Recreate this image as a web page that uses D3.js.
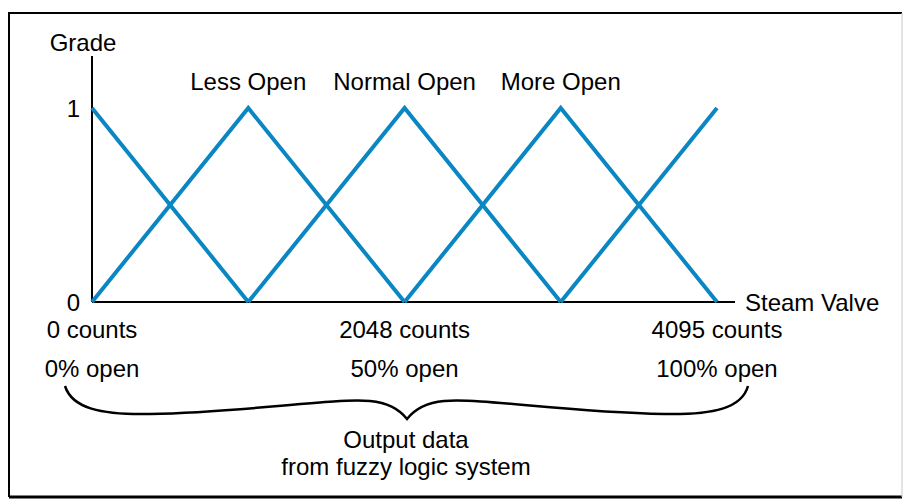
<!DOCTYPE html>
<html>
<head>
<meta charset="utf-8">
<script src="https://cdnjs.cloudflare.com/ajax/libs/d3/7.8.5/d3.min.js"></script>
<style>
  body { margin: 0; background: #fff; }
  text { font-family: "Liberation Sans", Arial, sans-serif; font-size: 24px; fill: #000; }
</style>
</head>
<body>
<script>
// membership sets: [start, peak, end] in counts, grade 0..1
var setNames = ["", "Less Open", "Normal Open", "More Open", ""];
var setPoints = [
	[[0, 1], [1024, 0]],
	[[0, 0], [1024, 1], [2048, 0]],
	[[1024, 0], [2048, 1], [3071, 0]],
	[[2048, 0], [3071, 1], [4095, 0]],
	[[3071, 0], [4095, 1]]
];
var peakCounts = [0, 1024, 2048, 3071, 4095];
var countTicks = [0, 2048, 4095];
var countLabels = ["0 counts", "2048 counts", "4095 counts"];
var openLabels = ["0% open", "50% open", "100% open"];
var gradeTicks = [0, 1];

var width = 903,
	height = 500;

var x = d3.scaleLinear().domain([0, 4095]).range([92, 717]);
var y = d3.scaleLinear().domain([0, 1]).range([302, 108]);

var svg = d3.select("body").append("svg")
	.attr("width", width)
	.attr("height", height);

// frame
svg.append("path")
	.attr("d", "M9,497 L9,13 L902,13")
	.attr("fill", "none").attr("stroke", "#000").attr("stroke-width", 2);
svg.append("line")
	.attr("x1", 9).attr("x2", 902).attr("y1", 497).attr("y2", 497)
	.attr("stroke", "#000").attr("stroke-width", 3);
svg.append("line")
	.attr("x1", 902).attr("x2", 902).attr("y1", 13).attr("y2", 497)
	.attr("stroke", "#c8c8c8").attr("stroke-width", 1);

// axes lines
svg.append("line")
	.attr("x1", x(0)).attr("x2", x(0)).attr("y1", y(0)).attr("y2", 56)
	.attr("stroke", "#000").attr("stroke-width", 2);
svg.append("line")
	.attr("x1", x(0)).attr("x2", 735).attr("y1", y(0)).attr("y2", y(0))
	.attr("stroke", "#000").attr("stroke-width", 2);

// grade ticks
var ya = svg.append("g")
	.attr("transform", "translate(" + x(0) + ",0)")
	.call(d3.axisLeft(y).tickValues(gradeTicks).tickSize(0).tickPadding(12).tickFormat(d3.format("d")));
ya.select(".domain").remove();
ya.selectAll("text").style("font-size", "24px").attr("font-family", null).attr("dy", "0.34em");

svg.append("text").attr("x", 83).attr("y", 51).attr("text-anchor", "middle").text("Grade");
svg.append("text").attr("x", 745).attr("y", 311).text("Steam Valve");

// triangles
var line = d3.line()
	.x(function(d) { return x(d[0]); })
	.y(function(d) { return y(d[1]); });

svg.selectAll("path.set")
	.data(setPoints)
	.enter().append("path")
	.attr("class", "set")
	.attr("d", line)
	.attr("fill", "none")
	.attr("stroke", "#0a87c3")
	.attr("stroke-width", 4)
	.attr("stroke-linejoin", "miter");

svg.selectAll("text.setname")
	.data(setNames)
	.enter().append("text")
	.attr("class", "setname")
	.attr("x", function(d, i) { return x(peakCounts[i]); })
	.attr("y", 90)
	.attr("text-anchor", "middle")
	.text(function(d) { return d; });

// count and open labels
svg.selectAll("text.count")
	.data(countTicks)
	.enter().append("text")
	.attr("class", "count")
	.attr("x", function(d) { return x(d); })
	.attr("y", 338)
	.attr("text-anchor", "middle")
	.text(function(d, i) { return countLabels[i]; });

svg.selectAll("text.open")
	.data(countTicks)
	.enter().append("text")
	.attr("class", "open")
	.attr("x", function(d) { return x(d); })
	.attr("y", 377)
	.attr("text-anchor", "middle")
	.text(function(d, i) { return openLabels[i]; });

// brace
svg.append("path")
	.attr("d", "M65,386 C72,408 100,415 150,414 C250,412 330,398 370,401 C390,403 400,410 407,419 " +
		"C414,410 424,403 444,401 C484,398 564,412 664,414 C714,415 742,408 748,386")
	.attr("fill", "none")
	.attr("stroke", "#000")
	.attr("stroke-width", 2.5);

svg.append("text").attr("x", 406).attr("y", 448).attr("text-anchor", "middle").text("Output data");
svg.append("text").attr("x", 406).attr("y", 475).attr("text-anchor", "middle").text("from fuzzy logic system");
</script>
</body>
</html>
